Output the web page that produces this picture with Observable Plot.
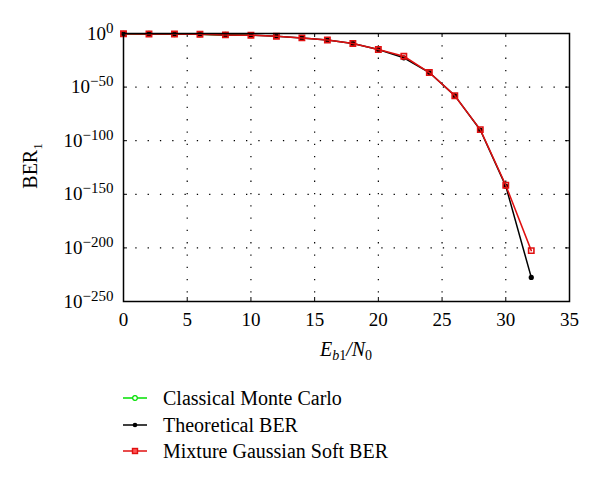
<!DOCTYPE html>
<html><head><meta charset="utf-8">
<script src="https://cdn.jsdelivr.net/npm/d3@7"></script>
<script src="https://cdn.jsdelivr.net/npm/@observablehq/plot@0.6"></script>
<style>
body{margin:0;background:#fff;}
#chart{width:600px;}
svg{display:block;}
</style>
</head><body><div id="chart"></div><script>
// ---- data ----
const ebN0 = [0, 2, 4, 6, 8, 10, 12, 14, 16, 18, 20, 22, 24, 26, 28, 30, 32];
const theoreticalBER = [5e-1, 4e-1, 3e-1, 2e-1, 5e-2, 2.5e-2, 3e-3, 8e-5, 1e-6, 5e-10, 1e-15, 2e-23, 4e-37, 1e-58, 1e-90, 4e-143, 3e-228];
const mixtureBER = [5e-1, 4e-1, 3e-1, 2e-1, 5e-2, 2.5e-2, 3e-3, 8e-5, 1e-6, 5e-10, 1e-15, 6e-22, 4e-37, 1e-58, 2e-90, 3e-142, 3e-203];
const monteCarloEb = [0, 2, 4, 6, 8, 10];
const monteCarloBER = [5e-1, 4e-1, 3e-1, 2e-1, 5e-2, 2.5e-2];
const xTicks = [0, 5, 10, 15, 20, 25, 30, 35];
const yTicks = [1, 1e-50, 1e-100, 1e-150, 1e-200, 1e-250];
const seriesNames = ["Classical Monte Carlo", "Theoretical BER", "Mixture Gaussian Soft BER"];
const seriesColors = ["#00e000", "#000000", "#e01010"];

// ---- tables ----
const mc = monteCarloEb.map((x, i) => ({x, y: monteCarloBER[i]}));
const th = ebN0.map((x, i) => ({x, y: theoreticalBER[i]}));
const mx = ebN0.map((x, i) => ({x, y: mixtureBER[i]}));

const W = 600, H = 370, mL = 123, mR = 31, mT = 33, mB = 69;
const iw = W - mL - mR, ih = H - mT - mB;
const FONT = "Liberation Serif";
const dotted = {stroke: "#000", strokeWidth: 1.2, strokeDasharray: "1.3,11"};

const svg = Plot.plot({
  width: W, height: H,
  marginLeft: mL, marginRight: mR, marginTop: mT, marginBottom: mB,
  style: {background: "#fff"},
  x: {domain: [0, 35]},
  y: {type: "log", domain: [1e-250, 1]},
  marks: [
    Plot.ruleX(xTicks.slice(1, -1), dotted),
    Plot.ruleY(yTicks.slice(1, -1), dotted),
    Plot.ruleX(xTicks, {stroke: "#000", strokeWidth: 1, insetTop: ih - 4}),
    Plot.ruleX(xTicks, {stroke: "#000", strokeWidth: 1, insetBottom: ih - 4}),
    Plot.ruleY(yTicks, {stroke: "#000", strokeWidth: 1, insetLeft: iw - 4}),
    Plot.ruleY(yTicks, {stroke: "#000", strokeWidth: 1, insetRight: iw - 4}),
    Plot.line(mc, {x: "x", y: "y", stroke: seriesColors[0], strokeWidth: 1.5}),
    Plot.dot(mc, {x: "x", y: "y", stroke: seriesColors[0], r: 2.5, strokeWidth: 1.2}),
    Plot.line(th, {x: "x", y: "y", stroke: seriesColors[1], strokeWidth: 1.5}),
    Plot.dot(th, {x: "x", y: "y", fill: seriesColors[1], r: 2.6}),
    Plot.line(mx, {x: "x", y: "y", stroke: seriesColors[2], strokeWidth: 1.5}),
    Plot.dot(mx, {x: "x", y: "y", symbol: "square", stroke: seriesColors[2], fill: "none", r: 3, strokeWidth: 1.6}),
    Plot.frame({stroke: "#000", strokeWidth: 1.5}),
    Plot.axisX({ticks: xTicks, tickSize: 0, tickPadding: 11, label: null}),
    Plot.axisY({ticks: yTicks, tickSize: 0, tickPadding: 10, label: null,
      tickFormat: d => { const e = Math.round(Math.log10(d)); return e === 0 ? "0" : "\u2212" + Math.abs(e); }})
  ]
});

d3.select(svg).attr("font-family", FONT).attr("font-size", 19);
d3.select(svg).selectAll("g[aria-label$='tick label']").attr("font-family", FONT).attr("font-size", 19).attr("font-variant", null);

d3.select(svg).selectAll('g[aria-label="x-axis tick label"] text')
  .attr("font-family", FONT).attr("font-size", 19).attr("fill", "#000");

// superscript exponents on y tick labels
d3.select(svg).selectAll('g[aria-label="y-axis tick label"] text').each(function() {
  const t = d3.select(this);
  const e = t.text();
  t.text(null).attr("font-family", FONT).attr("font-size", 19).attr("fill", "#000");
  t.append("tspan").text("10");
  t.append("tspan").attr("dy", "-7").attr("font-size", 15).text(e);
});

// y label
const yl = d3.select(svg).append("text")
  .attr("transform", "translate(37,166) rotate(-90)")
  .attr("text-anchor", "middle")
  .attr("font-family", FONT).attr("font-size", 20).attr("fill", "#000");
yl.append("tspan").text("BER");
yl.append("tspan").attr("dy", "5").attr("font-size", 13).text("1");

// x label
const xl = d3.select(svg).append("text")
  .attr("x", mL + iw / 2).attr("y", 356)
  .attr("text-anchor", "middle")
  .attr("font-family", FONT).attr("font-size", 20).attr("fill", "#000");
xl.append("tspan").attr("font-style", "italic").text("E");
xl.append("tspan").attr("font-style", "italic").attr("dy", "4").attr("font-size", 14).text("b");
xl.append("tspan").attr("font-size", 14).text("1");
xl.append("tspan").attr("font-style", "italic").attr("dy", "-4").text("/N");
xl.append("tspan").attr("dy", "4").attr("font-size", 14).text("0");

document.getElementById("chart").appendChild(svg);

// legend below
const leg = d3.select("#chart").append("svg").attr("width", W).attr("height", 483 - H);
const rowsY = [28, 55, 81];
seriesNames.forEach((name, i) => {
  const g = leg.append("g").attr("transform", `translate(0,${rowsY[i]})`);
  g.append("line").attr("x1", 123).attr("x2", 147).attr("y1", 0).attr("y2", 0)
    .attr("stroke", seriesColors[i]).attr("stroke-width", 1.5);
  if (i === 0) g.append("circle").attr("cx", 135).attr("cy", 0).attr("r", 2.3).attr("fill", "#fff").attr("stroke", seriesColors[i]).attr("stroke-width", 1.2);
  if (i === 1) g.append("circle").attr("cx", 135).attr("cy", 0).attr("r", 2.3).attr("fill", seriesColors[i]);
  if (i === 2) g.append("rect").attr("x", 132.5).attr("y", -2.5).attr("width", 5).attr("height", 5).attr("fill", "#f55").attr("stroke", seriesColors[i]).attr("stroke-width", 1.4);
  g.append("text").attr("x", 163).attr("y", 6.5).attr("font-family", FONT).attr("font-size", 20).attr("fill", "#000").text(name);
});
</script></body></html>
